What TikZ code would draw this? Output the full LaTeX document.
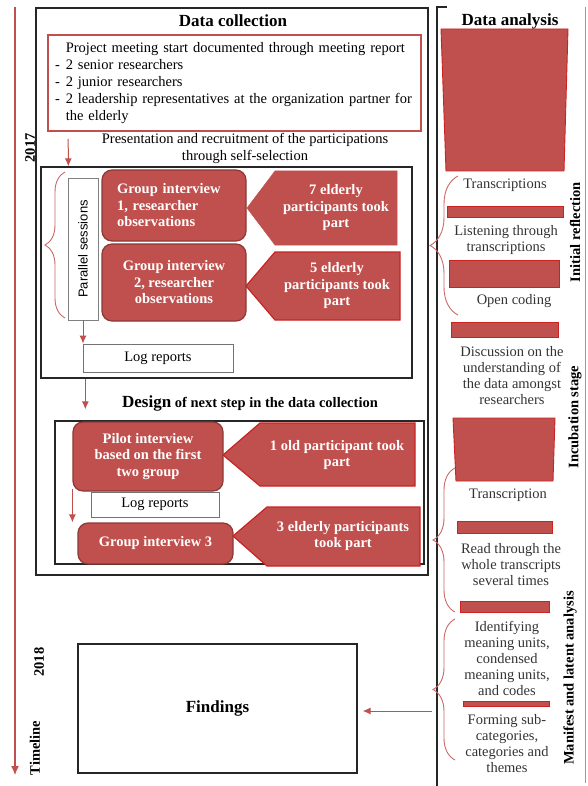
\documentclass[tikz,border=0pt]{standalone}
\usepackage{fontspec}
\setmainfont{Liberation Serif}
\setsansfont{Liberation Sans}
\usepackage{tikz}
\usetikzlibrary{arrows.meta,positioning,calc,decorations.pathreplacing}
\definecolor{accent}{HTML}{C0504D}
\definecolor{accentdark}{HTML}{8C3836}
\definecolor{edgered}{HTML}{CC2222}

\begin{document}
\begin{tikzpicture}[x=1pt, y=-1pt, >=Latex]
        \tikzset{frame/.style={rectangle, draw=black!85, line width=1.3pt, inner sep=0pt},
            heading/.style={font=\fontsize{17}{20}\selectfont\bfseries},
            plain/.style={align=center, font=\fontsize{14.5}{17}\selectfont},
            session/.style={rectangle, rounded corners=10pt, draw=accentdark, line width=1.2pt, fill=accent, text=white, align=center, font=\fontsize{14.5}{16.5}\selectfont\bfseries},
            tagtext/.style={align=center, text=white, font=\fontsize{14.5}{16.5}\selectfont\bfseries},
            pointer/.style={fill=accent, draw=accent, line width=0.5pt},
            logbox/.style={rectangle, draw=black!55, line width=0.8pt, font=\fontsize{14.5}{17}\selectfont},
            flow/.style={-{Latex[length=8pt,width=7pt]}, draw=accent, line width=1pt},
            funnel/.style={fill=accent, draw=edgered, line width=0.9pt},
            steptext/.style={align=center, text=black!80, font=\fontsize{14.5}{16}\selectfont},
            stage/.style={rotate=90, font=\fontsize{14.5}{17}\selectfont\bfseries},
            curly/.style={decorate, decoration={brace, amplitude=#1}, draw=accent!85, line width=0.9pt}}
        \useasboundingbox (0,0) rectangle (587,786);
        \coordinate (tlstart) at (15,7);
        \coordinate (tlend) at (15,775);
        \draw[flow, line width=1.2pt, -{Latex[length=9pt,width=8pt]}] (tlstart) -- (tlend);
        \node[stage] (yearone) at (30,148) {2017};
        \node[stage] (yeartwo) at (39,662) {2018};
        \node[stage] (tllabel) at (35,748) {Timeline};
        \node[frame, minimum width=392pt, minimum height=567pt] (collection) at (232,291.5) {};
        \node[heading] (collecttitle) at (233,21) {Data collection};
        \node[rectangle, draw=accent, line width=1.6pt, minimum width=373pt, minimum height=96pt, inner xsep=7pt, text width=359pt, align=left, font=\fontsize{14.5}{17}\selectfont] (meeting) at (234.5,83) {\begin{tabular}{@{}l@{\hspace{6pt}}l@{}}
            & Project meeting start documented through meeting report\\
            - & 2 senior researchers\\
            - & 2 junior researchers\\
            - & 2 leadership representatives at the organization partner for\\
            & the elderly
        \end{tabular}};
        \node[plain] (recruit) at (245,148) {Presentation and recruitment of the participations\\through self-selection};
        \node[frame, minimum width=371pt, minimum height=211pt] (collectone) at (226.5,272.5) {};
        \draw[flow] ([xshift=21pt,yshift=-7pt]meeting.south west) -- ([xshift=28pt]collectone.north west);
        \draw[curly=20pt] (65,318) -- (65,172);
        \node[rectangle, draw=black!50, line width=0.8pt, minimum width=30pt, minimum height=142pt, inner sep=0pt] (parallel) at (83,249) {\rotatebox{90}{\sffamily\fontsize{13}{15}\selectfont Parallel sessions}};
        \filldraw[pointer] (247,208) -- (275,171) -- (397,171) -- (397,245) -- (275,245) -- cycle;
        \filldraw[pointer, draw=edgered, line width=1.2pt] (246,286) -- (275,252) -- (400,252) -- (400,320) -- (275,320) -- cycle;
        \node[session, minimum width=144pt, minimum height=71pt, text width=114pt, align=left] (groupone) at (174,205.5) {Group interview\\1, researcher\\observations};
        \node[session, minimum width=144pt, minimum height=77pt] (grouptwo) at (174,282.5) {Group interview\\2, researcher\\observations};
        \node[tagtext] (partone) at (336,208) {7 elderly\\participants took\\part};
        \node[tagtext] (parttwo) at (337,286) {5 elderly\\participants took\\part};
        \node[logbox, minimum width=150pt, minimum height=28pt] (logone) at (158,358) {Log reports};
        \draw[flow] (parallel.south) -- (parallel.south |- logone.north);
        \node[font=\fontsize{14.5}{17}\selectfont\bfseries] (design) at (250,403) {{\fontsize{17}{20}\selectfont Design} of next step in the data collection};
        \node[frame, minimum width=369pt, minimum height=143pt] (designframe) at (239.5,492.5) {};
        \draw[flow, shorten >=11pt] ([xshift=45pt]collectone.south west) -- ([xshift=31pt]designframe.north west);
        \filldraw[pointer, draw=edgered, line width=1.2pt] (223,455) -- (260,423) -- (415,423) -- (415,486) -- (260,486) -- cycle;
        \filldraw[pointer, draw=edgered, line width=1.2pt] (233,536) -- (267,507) -- (420,507) -- (420,566) -- (267,566) -- cycle;
        \node[session, minimum width=150pt, minimum height=69pt] (pilot) at (148,456.5) {Pilot interview\\based on the first\\two group};
        \node[logbox, minimum width=128pt, minimum height=25pt] (logtwo) at (155,504.5) {Log reports};
        \node[session, minimum width=155pt, minimum height=41pt] (groupthree) at (155.5,543.5) {Group interview 3};
        \draw[flow] ([yshift=3pt]pilot.south west) -- (pilot.south west |- groupthree.north);
        \node[tagtext] (partthree) at (337,455) {1 old participant took\\part};
        \node[tagtext] (partfour) at (343,536) {3 elderly participants\\took part};
        \node[frame, minimum width=279pt, minimum height=129pt, font=\fontsize{17}{20}\selectfont\bfseries] (findings) at (217.5,708.5) {Findings};
        \draw[line width=1.2pt, black!85] (447,7) -- (437,7) -- (437,786);
        \draw[line width=0.8pt, black!40] (585,7) -- (585,783);
        \node[heading] (analysistitle) at (510,21) {Data analysis};
        \filldraw[funnel] (441,29) -- (568,29) -- (564,171) -- (446,171) -- cycle;
        \filldraw[funnel] (447,206) rectangle (563,217);
        \filldraw[funnel] (449,260) rectangle (559,287);
        \filldraw[funnel] (451,322) rectangle (558,337);
        \filldraw[funnel] (453,418) -- (555,418) -- (553,481) -- (456,481) -- cycle;
        \filldraw[funnel] (457,521) rectangle (552,533);
        \filldraw[funnel] (460,601) rectangle (549,612);
        \filldraw[funnel] (463,701) rectangle (549,706);
        \node[steptext] (transcriptions) at (505,185) {Transcriptions};
        \node[steptext] (listening) at (506,240) {Listening through\\transcriptions};
        \node[steptext] (opencoding) at (514,301) {Open coding};
        \node[steptext] (discussion) at (512,376) {Discussion on the\\understanding of\\the data amongst\\researchers};
        \node[steptext] (transcription) at (508,495) {Transcription};
        \node[steptext] (readthrough) at (511,564.5) {Read through the\\whole transcripts\\several times};
        \node[steptext] (identifying) at (507,658) {Identifying\\meaning units,\\condensed\\meaning units,\\and codes};
        \node[steptext] (forming) at (507,744) {Forming sub-\\categories,\\categories and\\themes};
        \draw[curly=28pt] (458,315) -- (458,176);
        \draw[curly=22pt] (455,612) -- (455,468);
        \draw[curly=22pt] (455,760) -- (455,619);
        \node[stage] (initial) at (575,232) {Initial reflection};
        \node[stage] (incubation) at (575,417) {Incubation stage};
        \node[stage] (manifest) at (570,678) {Manifest and latent analysis};
        \coordinate (analysisout) at (432,711);
        \draw[flow, shorten >=5pt] (analysisout) -- (findings.east |- analysisout);
    \end{tikzpicture}
\end{document}
